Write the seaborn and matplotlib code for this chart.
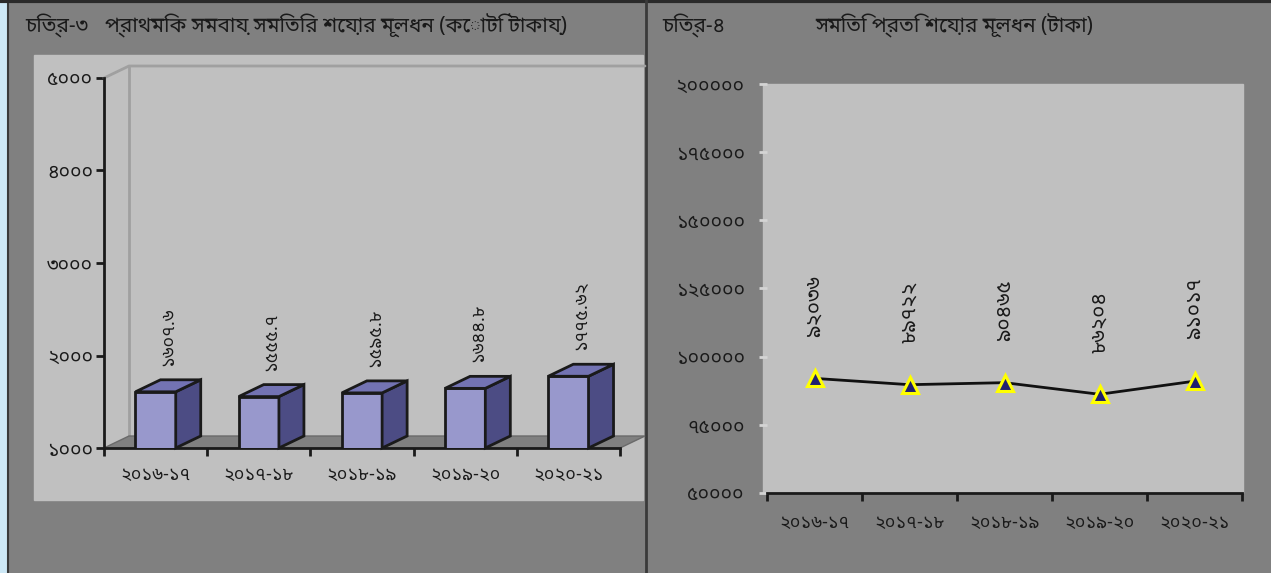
import matplotlib
matplotlib.use("Agg")
import matplotlib.pyplot as plt
import matplotlib.patches as mpatches
import seaborn as sns
import pandas as pd

# data
years = ["২০১৬-১৭", "২০১৭-১৮", "২০১৮-১৯", "২০১৯-২০", "২০২০-২১"]
capital_crore = [1607.6, 1555.7, 1595.8, 1644.8, 1775.62]
capital_labels = ["১৬০৭.৬", "১৫৫৫.৭", "১৫৯৫.৮", "১৬৪৪.৮", "১৭৭৫.৬২"]
per_society = [92036, 89722, 90465, 86204, 91017]
per_society_labels = ["৯২০৩৬", "৮৯৭২২", "৯০৪৬৫", "৮৬২০৪", "৯১০১৭"]
left_yticks = [1000, 2000, 3000, 4000, 5000]
left_yticklabels = ["১০০০", "২০০০", "৩০০০", "৪০০০", "৫০০০"]
right_yticks = [50000, 75000, 100000, 125000, 150000, 175000, 200000]
right_yticklabels = ["৫০০০০", "৭৫০০০", "১০০০০০", "১২৫০০০", "১৫০০০০", "১৭৫০০০", "২০০০০০"]
title_left = "প্রাথমিক সমবায় সমিতির শেয়ার মূলধন (কোটি টাকায়)"
title_right = "সমিতি প্রতি শেয়ার মূলধন (টাকা)"
fig_left = "চিত্র-৩"
fig_right = "চিত্র-৪"

sns.set_theme(style="white")
plt.rcParams["font.family"] = ["Noto Sans Bengali", "Lohit Bengali", "FreeSans", "DejaVu Sans"]

W, H = 1271, 573
fig = plt.figure(figsize=(W / 100, H / 100), dpi=100)
fig.patch.set_facecolor("#808080")


def frac(x0, y0, x1, y1):
    # pixel box (top-left origin) -> figure fraction rect
    return [x0 / W, 1 - y1 / H, (x1 - x0) / W, (y1 - y0) / H]


# background decorations
bg = fig.add_axes([0, 0, 1, 1], zorder=-10)
bg.set_xlim(0, W)
bg.set_ylim(H, 0)
bg.axis("off")
bg.add_patch(mpatches.Rectangle((0, 0), 7, H, color="#cde8f6"))
bg.plot([7.5, 7.5], [0, H], color="#3a3a3a", lw=1.5)
bg.plot([0, W], [1, 1], color="#2a2a2a", lw=3)
bg.plot([645.5, 645.5], [0, H], color="#3a3a3a", lw=2)
bg.add_patch(mpatches.Rectangle((34, 55), 609, 445, color="#c0c0c0"))
bg.add_patch(mpatches.Rectangle((763, 84), 480, 409, color="#c0c0c0"))

txt = dict(color="#1a1a1a", fontsize=15, va="center")
fig.text(25 / W, 1 - 26 / H, fig_left, **txt)
fig.text(105 / W, 1 - 26 / H, title_left, **txt)
fig.text(662 / W, 1 - 26 / H, fig_right, **txt)
fig.text(815 / W, 1 - 26 / H, title_right, **txt)

# ---- left: 3D-style bar chart ----
ax1 = fig.add_axes(frac(104, 78, 620, 448))
df1 = pd.DataFrame({"year": years, "value": capital_crore})
sns.barplot(data=df1, x="year", y="value", ax=ax1, color="#9898cc",
            width=0.39, edgecolor="#1a1a1a", linewidth=2, saturation=1, zorder=3)
ax1.set_ylim(1000, 5000)
ax1.set_xlim(-0.5, 4.5)
ax1.patch.set_alpha(0)
ax1.set_xlabel("")
ax1.set_ylabel("")
ax1.set_yticks(left_yticks, left_yticklabels)
ax1.set_xticks([i + 0.5 for i in range(-1, 5)], minor=True)
ax1.set_xticks(range(5), years)
ax1.tick_params(axis="x", which="major", length=0, pad=13, labelsize=13, colors="#1a1a1a")
ax1.tick_params(axis="x", which="minor", bottom=True, length=6, width=2, color="#1a1a1a")
ax1.tick_params(axis="y", left=True, length=6, width=2, color="#1a1a1a", labelsize=14,
                labelcolor="#1a1a1a", pad=2)
for s in ["top", "right"]:
    ax1.spines[s].set_visible(False)
for s in ["left", "bottom"]:
    ax1.spines[s].set_color("#1a1a1a")
    ax1.spines[s].set_linewidth(2)

# depth offset in pixels -> data units
ddx, ddy = 25, 12
to_data = ax1.transData.inverted()
p0 = to_data.transform(ax1.transData.transform((0, 1000)))
p1 = to_data.transform(ax1.transData.transform((0, 1000)) + [ddx, ddy])
dx, dy = p1[0] - p0[0], p1[1] - p0[1]

# back wall and floor
wall = dict(color="#a0a0a0", lw=2, clip_on=False, zorder=1)
ax1.plot([-0.5, -0.5 + dx, 4.5 + dx], [5000, 5000 + dy, 5000 + dy], **wall)
ax1.plot([-0.5 + dx, -0.5 + dx], [1000 + dy, 5000 + dy], **wall)
ax1.add_patch(mpatches.Polygon([(-0.5, 1000), (4.5, 1000), (4.5 + dx, 1000 + dy),
                                (-0.5 + dx, 1000 + dy)], closed=True,
                               facecolor="#808080", edgecolor="#6a6a6a", lw=1,
                               clip_on=False, zorder=1))

for bar, lab in zip(ax1.patches[:5], capital_labels):
    x0, w, h = bar.get_x(), bar.get_width(), bar.get_height()
    x1, top = x0 + w, h
    side = [(x1, 1000), (x1 + dx, 1000 + dy), (x1 + dx, top + dy), (x1, top)]
    lid = [(x0, top), (x1, top), (x1 + dx, top + dy), (x0 + dx, top + dy)]
    ax1.add_patch(mpatches.Polygon(side, closed=True, facecolor="#4c4c84",
                                   edgecolor="#1a1a1a", lw=2, zorder=4, clip_on=False))
    ax1.add_patch(mpatches.Polygon(lid, closed=True, facecolor="#7373b3",
                                   edgecolor="#1a1a1a", lw=2, zorder=4, clip_on=False))
    ax1.annotate(lab, (x0 + w / 2 + dx / 2, top + dy), xytext=(0, 10),
                 textcoords="offset points", rotation=90, ha="center", va="bottom",
                 fontsize=13, color="#1a1a1a")

# ---- right: line chart ----
ax2 = fig.add_axes(frac(767, 84, 1242, 493))
df2 = pd.DataFrame({"year": years, "value": per_society})
sns.lineplot(data=df2, x="year", y="value", ax=ax2, color="#111111", lw=2,
             marker="^", markersize=11, markerfacecolor="#202070",
             markeredgecolor="#ffff00", markeredgewidth=2.2, sort=False)
ax2.set_ylim(50000, 200000)
ax2.set_xlim(-0.5, 4.5)
ax2.patch.set_alpha(0)
ax2.set_xlabel("")
ax2.set_ylabel("")
ax2.set_yticks(right_yticks, right_yticklabels)
ax2.set_xticks([i + 0.5 for i in range(-1, 5)], minor=True)
ax2.set_xticks(range(5), years)
ax2.tick_params(axis="x", which="major", length=0, pad=15, labelsize=13, colors="#1a1a1a")
ax2.tick_params(axis="x", which="minor", bottom=True, length=6, width=2, color="#1a1a1a")
ax2.tick_params(axis="y", left=True, length=6, width=2, color="#d4d4d4", labelsize=14,
                labelcolor="#1a1a1a", pad=10)
for s in ["top", "right", "left"]:
    ax2.spines[s].set_visible(False)
ax2.spines["bottom"].set_color("#1a1a1a")
ax2.spines["bottom"].set_linewidth(2)
for i, (v, lab) in enumerate(zip(per_society, per_society_labels)):
    ax2.annotate(lab, (i, v), xytext=(0, 30), textcoords="offset points",
                 rotation=90, ha="center", va="bottom", fontsize=15, color="#1a1a1a")

fig.savefig("out.png", dpi=100, facecolor=fig.get_facecolor())
